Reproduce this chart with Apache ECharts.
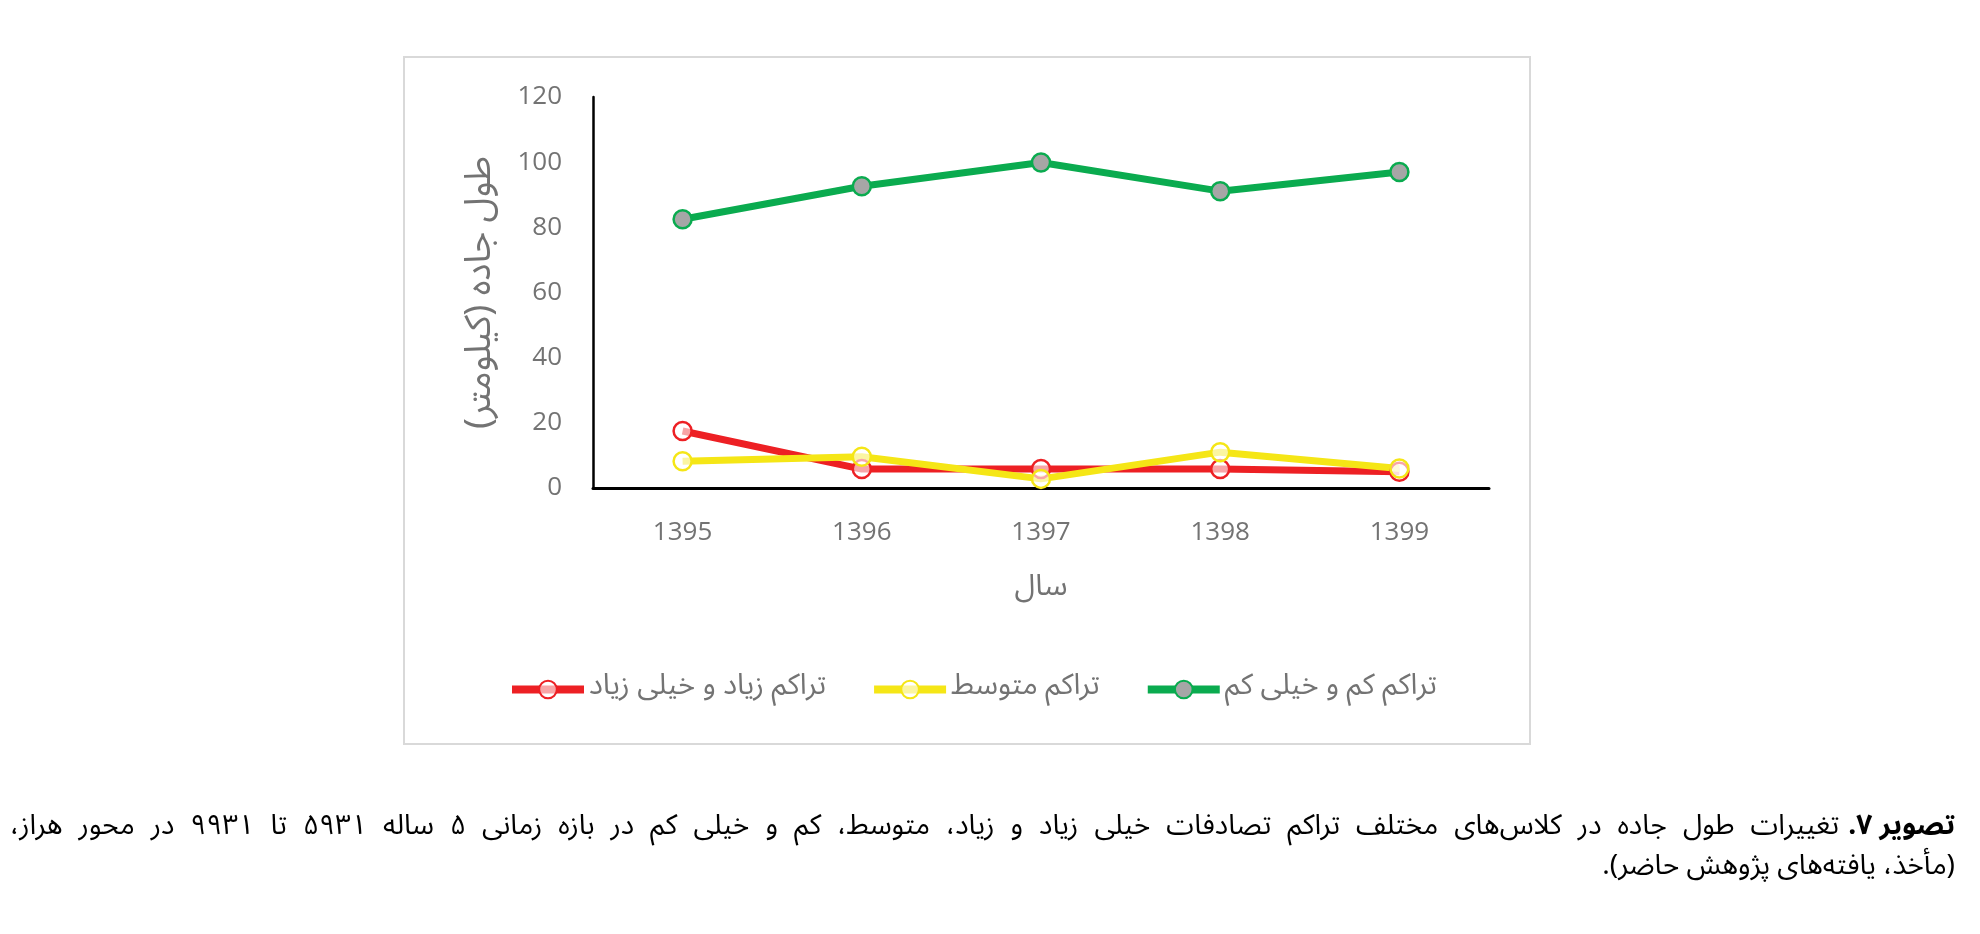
<!DOCTYPE html>
<html>
<head>
<meta charset="utf-8">
<script src="https://cdn.jsdelivr.net/npm/echarts@6/dist/echarts.min.js"></script>
<style>
html,body{margin:0;padding:0;background:#fff;}
#chart{width:1980px;height:934px;}
</style>
</head>
<body>
<div id="chart" dir="rtl"></div>
<script>
const years = ['1395', '1396', '1397', '1398', '1399'];
const highValues = [17.5, 5.8, 5.8, 5.8, 5.0];
const mediumValues = [8.2, 9.6, 2.8, 11.0, 6.0];
const lowValues = [82.5, 92.6, 99.9, 91.1, 97.0];
const seriesNames = ['تراکم زیاد و خیلی زیاد', 'تراکم متوسط', 'تراکم کم و خیلی کم'];
const yTicks = [0, 20, 40, 60, 80, 100, 120];
const xAxisTitle = 'سال';
const yAxisTitle = 'طول جاده (کیلومتر)';
const captionBold = 'تصویر ۷.';
const captionLine1 = 'تغییرات طول جاده در کلاس‌های مختلف تراکم تصادفات خیلی زیاد و زیاد، متوسط، کم و خیلی کم در بازه زمانی ۵ ساله ۵۹۳۱ تا ۹۹۳۱ در محور هراز،';
const captionLine2 = '(مأخذ، یافته‌های پژوهش حاضر).';

const faFont = "'Noto Sans Arabic','DejaVu Sans',sans-serif";
const numFont = "'Open Sans','Noto Sans',sans-serif";
const gray = '#737373';
const red = '#ed2024', yellow = '#f5e616', green = '#0aab4f';

const captionFont = "28px " + faFont;
const captionBoldFont = "bold 28px " + faFont;

const measureCanvas = document.createElement('canvas');
measureCanvas.dir = 'rtl';
const mctx = measureCanvas.getContext('2d');
function textWidth(t, font) { mctx.font = font; return mctx.measureText(t).width; }

// Justify caption line 1 (right-to-left word placement)
function justifiedWords(text, font, right, left, y) {
  const words = text.split(' ');
  const widths = words.map(w => textWidth(w, font));
  const total = widths.reduce((a, b) => a + b, 0);
  const gap = (right - left - total) / (words.length - 1);
  let cursor = right;
  return words.map((w, i) => {
    const el = {type: 'text', x: cursor, y: y,
      style: {text: w, font: font, fill: '#000', align: 'right', verticalAlign: 'middle'}};
    cursor -= widths[i] + gap;
    return el;
  });
}

const boldRight = 1955;
const line1Right = boldRight - textWidth(captionBold, captionBoldFont) - 9;

const chart = echarts.init(document.getElementById('chart'), null, {renderer: 'canvas'});

function lineSeries(name, data, color, fill) {
  return {
    name: name,
    type: 'line',
    data: data,
    symbol: 'circle',
    symbolSize: 18,
    lineStyle: {color: color, width: 7},
    itemStyle: {color: fill, borderColor: color, borderWidth: 2.5},
    emphasis: {disabled: true},
    animation: false
  };
}

chart.setOption({
  backgroundColor: '#fff',
  animation: false,
  graphic: [
    {type: 'rect', shape: {x: 404, y: 57, width: 1126, height: 687},
     style: {fill: 'none', stroke: '#d9d9d9', lineWidth: 2}, silent: true, z: -10},
    {type: 'text', x: boldRight, y: 830,
     style: {text: captionBold, font: captionBoldFont, fill: '#000', align: 'right', verticalAlign: 'middle'}},
    {type: 'text', x: boldRight, y: 870,
     style: {text: captionLine2, font: captionFont, fill: '#000', align: 'right', verticalAlign: 'middle'}}
  ].concat(justifiedWords(captionLine1, captionFont, line1Right, 10, 830)),
  grid: {left: 593, right: 1980 - 1489, top: 97, bottom: 934 - 488, containLabel: false},
  legend: {
    data: seriesNames,
    left: 503,
    top: 670,
    itemWidth: 72,
    itemHeight: 22,
    itemGap: 44,
    lineStyle: {width: 8},
    textStyle: {fontSize: 29, color: gray, fontFamily: faFont}
  },
  xAxis: {
    type: 'category',
    data: years,
    boundaryGap: true,
    name: xAxisTitle,
    nameLocation: 'middle',
    nameGap: 87,
    nameTextStyle: {fontSize: 30, color: gray, fontFamily: faFont},
    axisLine: {lineStyle: {color: '#000', width: 3}},
    axisTick: {show: false},
    axisLabel: {fontSize: 26, color: gray, fontFamily: numFont, margin: 32}
  },
  yAxis: {
    type: 'value',
    min: yTicks[0],
    max: yTicks[yTicks.length - 1],
    interval: yTicks[1] - yTicks[0],
    name: yAxisTitle,
    nameLocation: 'middle',
    nameGap: 90,
    nameRotate: 90,
    nameTextStyle: {fontSize: 36, color: gray, fontFamily: faFont},
    axisLine: {show: true, lineStyle: {color: '#000', width: 2.5}},
    axisTick: {show: false},
    splitLine: {show: false},
    axisLabel: {fontSize: 26, color: gray, fontFamily: numFont, margin: 31}
  },
  series: [
    lineSeries(seriesNames[0], highValues, red, 'rgba(255,255,255,0.6)'),
    lineSeries(seriesNames[1], mediumValues, yellow, 'rgba(255,255,255,0.6)'),
    lineSeries(seriesNames[2], lowValues, green, '#a6a6a6')
  ]
});
</script>
</body>
</html>
